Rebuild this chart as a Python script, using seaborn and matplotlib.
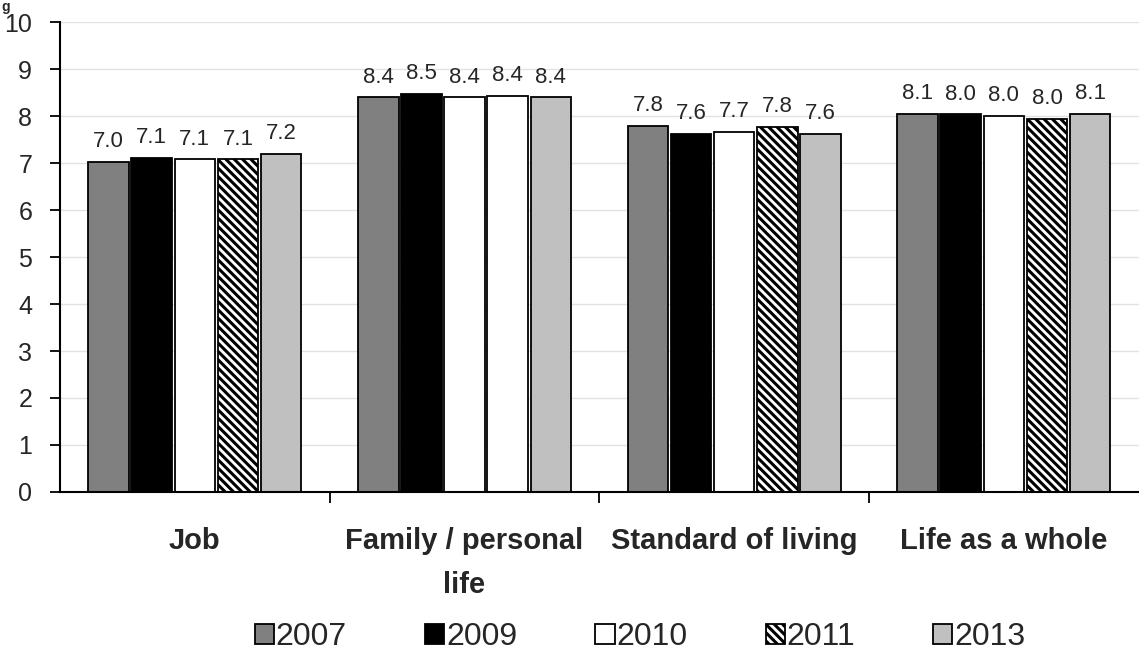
import matplotlib
matplotlib.use("Agg")
import matplotlib.pyplot as plt
import seaborn as sns
import pandas as pd

# Satisfaction scores (0-10) by life domain and survey year
aspects = ["Job", "Family / personal\nlife", "Standard of living", "Life as a whole"]
years = ["2007", "2009", "2010", "2011", "2013"]
score_2007 = [7.03, 8.40, 7.80, 8.05]
score_2009 = [7.12, 8.47, 7.62, 8.04]
score_2010 = [7.08, 8.40, 7.67, 8.01]
score_2011 = [7.08, 8.43, 7.77, 7.95]
score_2013 = [7.20, 8.40, 7.62, 8.05]
bar_colors = ["#808080", "#000000", "#ffffff", "#ffffff", "#c0c0c0"]

series = [score_2007, score_2009, score_2010, score_2011, score_2013]
rows = []
for yr, vals in zip(years, series):
    for asp, v in zip(aspects, vals):
        rows.append({"aspect": asp, "year": yr, "score": v})
df = pd.DataFrame(rows)

sns.set_theme(style="white")
plt.rcParams["font.family"] = ["Liberation Sans", "DejaVu Sans"]
plt.rcParams["hatch.linewidth"] = 2.2

fig = plt.figure(figsize=(11.39, 6.55), dpi=100)
ax = fig.add_axes([0.0527, 0.249, 0.947, 0.717])

sns.barplot(data=df, x="aspect", y="score", hue="year", order=aspects,
            hue_order=years, palette=bar_colors, edgecolor="black",
            linewidth=1.3, width=0.8, gap=0.06, saturation=1,
            legend=False, ax=ax)

# 2011 series uses a diagonal stripe fill
for i, patch in enumerate(ax.containers[3]):
    if i == 1:
        patch.set_facecolor("white")
        patch.set_hatch(None)
    else:
        patch.set_hatch("\\\\\\\\")

for cont in ax.containers:
    ax.bar_label(cont, fmt="%.1f", padding=7, fontsize=16)

ax.set_ylim(0, 10)
ax.set_yticks(range(0, 11))
ax.set_yticklabels([str(i) for i in range(0, 11)], fontsize=18)
ax.set_xlim(-0.5, 3.5)
ax.set_xticks(range(4))
ax.set_xticklabels(aspects, fontsize=21, fontweight="bold", linespacing=1.75)
ax.set_xticks([0.5, 1.5, 2.5], minor=True)
ax.tick_params(axis="x", which="major", length=0, pad=25)
ax.tick_params(axis="x", which="minor", length=8, width=1.3, color="black",
               direction="out", bottom=True)
ax.tick_params(axis="y", length=7, width=1.3, color="black", direction="out",
               left=True, pad=13)
ax.set_xlabel("")
ax.set_ylabel("")
ax.yaxis.grid(True, color="#e2e2e2", linewidth=1)
ax.set_axisbelow(True)
for side in ("top", "right"):
    ax.spines[side].set_visible(False)
for side in ("left", "bottom"):
    ax.spines[side].set_color("black")
    ax.spines[side].set_linewidth(1.5)

fig.legend(ax.containers, years, loc="lower center", bbox_to_anchor=(0.562, -0.04),
           ncol=5, frameon=False, fontsize=23, handlelength=0.6,
           handleheight=0.6, handletextpad=0.05, columnspacing=2.45)

fig.text(0.001, 1.0, "g", fontsize=10, fontweight="bold", va="top", ha="left")

fig.savefig("out.png", dpi=100)
